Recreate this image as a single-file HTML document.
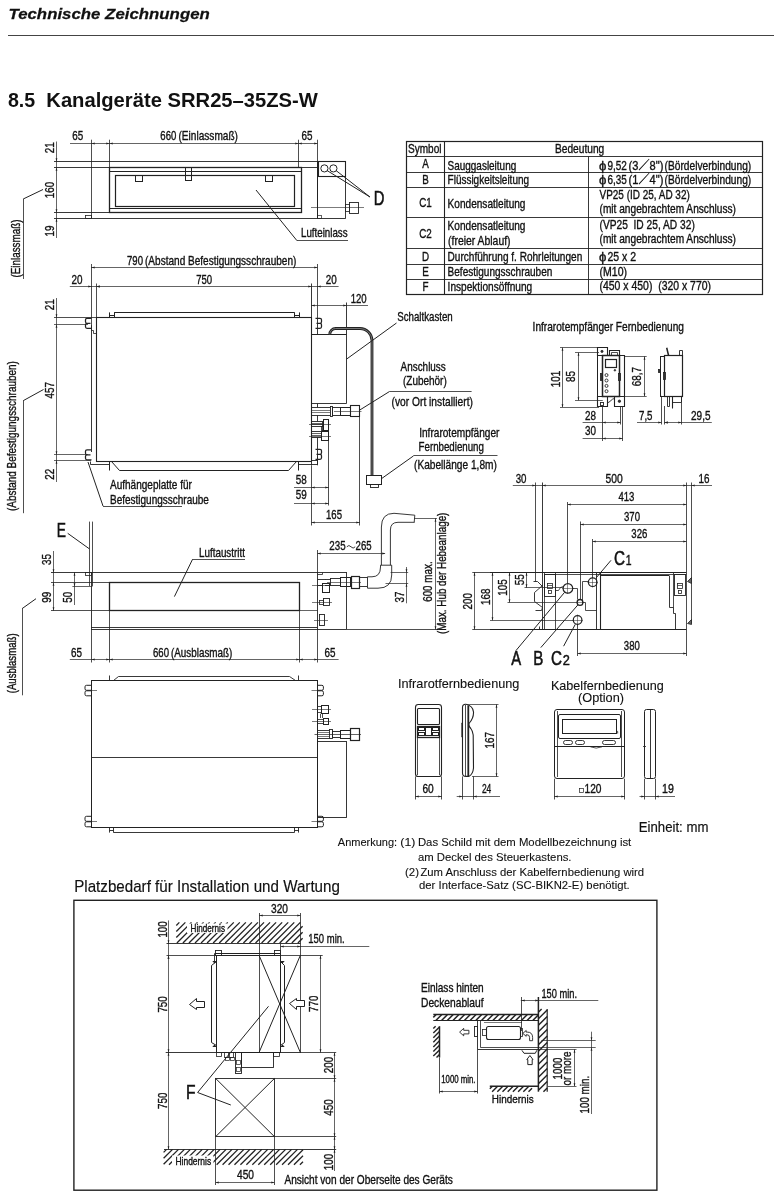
<!DOCTYPE html>
<html lang="de"><head><meta charset="utf-8"><title>Technische Zeichnungen</title>
<style>
html,body{margin:0;padding:0;background:#fff}
svg{display:block;will-change:transform}
svg text{fill:#111;stroke:#111;stroke-width:0.35px}
svg .a{fill:#222;stroke:none}
</style></head><body>
<svg width="774" height="1200" viewBox="0 0 774 1200" fill="none" stroke="#222" stroke-width="0.9" font-family="'Liberation Sans', 'Noto Sans CJK JP', sans-serif" font-size="12">
<!-- header -->
<text transform="translate(8.5 19.3) scale(1.086 1)" font-size="15.5" font-weight="bold" font-style="italic" style="stroke-width:0.25px">Technische Zeichnungen</text>
<line x1="8" y1="35.5" x2="774" y2="35.5" stroke-width="1.1" stroke="#444"/>
<text transform="translate(7.9 106.9) scale(1.007 1)" font-size="19.5" font-weight="bold" style="stroke-width:0px">8.5</text>
<text transform="translate(46.3 106.9) scale(1.036 1)" font-size="19.5" font-weight="bold" style="stroke-width:0px">Kanalgeräte SRR25–35ZS-W</text>
<!-- inlet view -->
<line x1="70" y1="143.5" x2="91" y2="143.5" stroke-width="0.7"/>
<line x1="91" y1="143.5" x2="109.8" y2="143.5" stroke-width="0.7"/>
<polygon class="a" points="91.5,143.5 94.7,142.6 94.7,144.4"/>
<polygon class="a" points="109.5,143.5 106.3,144.4 106.3,142.6"/>
<line x1="109.8" y1="143.5" x2="298.5" y2="143.5" stroke-width="0.7"/>
<polygon class="a" points="109.5,143.5 112.7,142.6 112.7,144.4"/>
<polygon class="a" points="298.5,143.5 295.3,144.4 295.3,142.6"/>
<line x1="298.5" y1="143.5" x2="317.4" y2="143.5" stroke-width="0.7"/>
<polygon class="a" points="298.5,143.5 301.7,142.6 301.7,144.4"/>
<polygon class="a" points="317.5,143.5 314.3,144.4 314.3,142.6"/>
<text transform="translate(72.3 140.3) scale(0.824 1)">65</text>
<text transform="translate(160.3 140.3) scale(0.799 1)">660</text>
<text transform="translate(178.5 140.3) scale(0.842 1)">(Einlassmaß)</text>
<text transform="translate(301.5 140.3) scale(0.824 1)">65</text>
<line x1="91.5" y1="139.7" x2="91.5" y2="218.2" stroke-width="0.8"/>
<line x1="109.5" y1="139.7" x2="109.5" y2="167.3" stroke-width="0.8"/>
<line x1="298.5" y1="139.7" x2="298.5" y2="167.3" stroke-width="0.8"/>
<line x1="317.5" y1="139.7" x2="317.5" y2="218.2" stroke-width="0.8"/>
<line x1="56.5" y1="141.5" x2="56.5" y2="238" stroke-width="0.7"/>
<polygon class="a" points="56.5,161.5 55.6,158.3 57.4,158.3"/>
<polygon class="a" points="56.5,167.5 57.4,170.7 55.6,170.7"/>
<polygon class="a" points="56.5,212.5 55.6,209.3 57.4,209.3"/>
<polygon class="a" points="56.5,218.5 57.4,221.7 55.6,221.7"/>
<text transform="translate(54 147.8) rotate(-90) scale(0.820 1)" text-anchor="middle">21</text>
<text transform="translate(54 190) rotate(-90) scale(0.820 1)" text-anchor="middle">160</text>
<text transform="translate(54 231) rotate(-90) scale(0.820 1)" text-anchor="middle">19</text>
<line x1="54" y1="161.5" x2="345.8" y2="161.5" stroke-width="0.9"/>
<line x1="54" y1="167.5" x2="317.4" y2="167.5" stroke-width="0.9"/>
<line x1="54" y1="212.5" x2="109.8" y2="212.5" stroke-width="0.9"/>
<line x1="54" y1="218.5" x2="345.8" y2="218.5" stroke-width="0.9"/>
<rect x="109.5" y="167.5" width="192" height="45" stroke-width="1.3"/>
<line x1="109.8" y1="171.5" x2="301" y2="171.5" stroke-width="1.1"/>
<line x1="109.8" y1="208.5" x2="301" y2="208.5" stroke-width="1.1"/>
<rect x="115.5" y="175.5" width="179" height="31" stroke-width="1.2"/>
<rect x="135.5" y="175.5" width="7" height="6" stroke-width="1"/>
<rect x="185.5" y="167.5" width="6" height="13" stroke-width="1"/>
<rect x="265.5" y="175.5" width="7" height="6" stroke-width="1"/>
<rect x="85.5" y="215.5" width="6" height="3" stroke-width="0.8"/>
<line x1="345.5" y1="161" x2="345.5" y2="218.2" stroke-width="0.9"/>
<line x1="317.5" y1="161" x2="317.5" y2="218.2" stroke-width="1"/>
<rect x="318.5" y="161.5" width="27" height="15" stroke-width="1.1"/>
<circle cx="324.4" cy="168.4" r="3.6" stroke-width="1"/>
<circle cx="333.4" cy="168.4" r="3.6" stroke-width="1"/>
<line x1="327" y1="170.5" x2="370" y2="197" stroke-width="1"/>
<line x1="336" y1="170.5" x2="370" y2="197" stroke-width="1"/>
<text transform="translate(373.8 205) scale(0.741 1)" font-size="20" style="stroke-width:0.55px">D</text>
<rect x="349.5" y="202.5" width="9" height="11" stroke-width="0.9"/>
<rect x="345.5" y="204.5" width="4" height="7" stroke-width="0.8"/>
<line x1="311" y1="207.5" x2="364" y2="207.5" stroke-width="0.6"/>
<rect x="317.5" y="215.5" width="4" height="3" stroke-width="0.7"/>
<line x1="256" y1="190" x2="297" y2="240.7" stroke-width="1"/>
<line x1="297" y1="240.5" x2="348" y2="240.5" stroke-width="0.8"/>
<text transform="translate(301 237) scale(0.812 1)">Lufteinlass</text>
<line x1="43" y1="189.5" x2="23.2" y2="199" stroke-width="1"/>
<line x1="23.5" y1="199" x2="23.5" y2="279" stroke-width="0.8"/>
<text transform="translate(19.6 277.5) rotate(-90) scale(0.821 1)">(Einlassmaß)</text>
<!-- table -->
<rect x="406.5" y="141.5" width="356" height="153" stroke-width="1.2"/>
<line x1="406.5" y1="156.5" x2="762.3" y2="156.5" stroke-width="0.9"/>
<line x1="406.5" y1="172.5" x2="762.3" y2="172.5" stroke-width="0.9"/>
<line x1="406.5" y1="187.5" x2="762.3" y2="187.5" stroke-width="0.9"/>
<line x1="406.5" y1="217.5" x2="762.3" y2="217.5" stroke-width="0.9"/>
<line x1="406.5" y1="248.5" x2="762.3" y2="248.5" stroke-width="0.9"/>
<line x1="406.5" y1="264.5" x2="762.3" y2="264.5" stroke-width="0.9"/>
<line x1="406.5" y1="279.5" x2="762.3" y2="279.5" stroke-width="0.9"/>
<line x1="444.5" y1="141.2" x2="444.5" y2="294" stroke-width="1.1"/>
<line x1="588.5" y1="156.3" x2="588.5" y2="294" stroke-width="0.9"/>
<text transform="translate(408 152.5) scale(0.837 1)">Symbol</text>
<text transform="translate(555 152.8) scale(0.849 1)">Bedeutung</text>
<text transform="translate(425.45 168.45) scale(0.820 1)" text-anchor="middle">A</text>
<text transform="translate(425.45 184) scale(0.820 1)" text-anchor="middle">B</text>
<text transform="translate(425.45 206.9) scale(0.820 1)" text-anchor="middle">C1</text>
<text transform="translate(425.45 237.65) scale(0.820 1)" text-anchor="middle">C2</text>
<text transform="translate(425.45 260.75) scale(0.820 1)" text-anchor="middle">D</text>
<text transform="translate(425.45 275.95) scale(0.820 1)" text-anchor="middle">E</text>
<text transform="translate(425.45 290.95) scale(0.820 1)" text-anchor="middle">F</text>
<text transform="translate(447.6 169.6) scale(0.830 1)">Sauggasleitung</text>
<text transform="translate(447.6 184.4) scale(0.832 1)">Flüssigkeitsleitung</text>
<text transform="translate(447.6 207.5) scale(0.840 1)">Kondensatleitung</text>
<text transform="translate(447.6 230) scale(0.840 1)">Kondensatleitung</text>
<text transform="translate(448.1 245) scale(0.868 1)">(freier Ablauf)</text>
<text transform="translate(447.6 260.5) scale(0.838 1)">Durchführung f. Rohrleitungen</text>
<text transform="translate(447.6 275.8) scale(0.836 1)">Befestigungsschrauben</text>
<text transform="translate(447.6 290.7) scale(0.843 1)">Inspektionsöffnung</text>
<text transform="translate(599 169.8) scale(1.016 1)" font-size="13">ϕ</text>
<text transform="translate(607.4 169.6) scale(0.831 1)">9,52</text>
<text transform="translate(628.6 169.6) scale(0.925 1)">(3／8")</text>
<text transform="translate(664.6 169.6) scale(0.849 1)">(Bördelverbindung)</text>
<text transform="translate(599 184.4) scale(1.016 1)" font-size="13">ϕ</text>
<text transform="translate(607.4 184.2) scale(0.831 1)">6,35</text>
<text transform="translate(628.6 184.2) scale(0.925 1)">(1／4")</text>
<text transform="translate(664.6 184.2) scale(0.849 1)">(Bördelverbindung)</text>
<text transform="translate(599.5 198.8) scale(0.832 1)">VP25 (ID 25, AD 32)</text>
<text transform="translate(599.5 213.4) scale(0.846 1)">(mit angebrachtem Anschluss)</text>
<text transform="translate(599.5 229.4) scale(0.852 1)">(VP25  ID 25, AD 32)</text>
<text transform="translate(599.5 243.4) scale(0.846 1)">(mit angebrachtem Anschluss)</text>
<text transform="translate(599 260.9) scale(1.016 1)" font-size="13">ϕ</text>
<text transform="translate(607.4 260.7) scale(0.875 1)">25 x 2</text>
<text transform="translate(599.5 275.5) scale(0.878 1)">(M10)</text>
<text transform="translate(599.5 290) scale(0.871 1)">(450 x 450)  (320 x 770)</text>
<!-- top view -->
<line x1="91" y1="267.5" x2="317.4" y2="267.5" stroke-width="0.7"/>
<polygon class="a" points="91.5,267.5 94.7,266.6 94.7,268.4"/>
<polygon class="a" points="317.5,267.5 314.3,268.4 314.3,266.6"/>
<text transform="translate(127 264.6) scale(0.799 1)">790</text>
<text transform="translate(145 264.6) scale(0.838 1)">(Abstand Befestigungsschrauben)</text>
<line x1="69.8" y1="286.5" x2="91" y2="286.5" stroke-width="0.7"/>
<line x1="91" y1="286.5" x2="96.4" y2="286.5" stroke-width="0.7"/>
<polygon class="a" points="91.5,286.5 88.3,287.4 88.3,285.6"/>
<polygon class="a" points="96.5,286.5 99.7,285.6 99.7,287.4"/>
<line x1="96.4" y1="286.5" x2="311.4" y2="286.5" stroke-width="0.7"/>
<polygon class="a" points="96.5,286.5 99.7,285.6 99.7,287.4"/>
<polygon class="a" points="311.5,286.5 308.3,287.4 308.3,285.6"/>
<line x1="311.4" y1="286.5" x2="338.6" y2="286.5" stroke-width="0.7"/>
<polygon class="a" points="317.5,286.5 320.7,285.6 320.7,287.4"/>
<text transform="translate(71.5 283.7) scale(0.824 1)">20</text>
<text transform="translate(196.2 283.7) scale(0.799 1)">750</text>
<text transform="translate(325.7 283.7) scale(0.824 1)">20</text>
<line x1="91.5" y1="264" x2="91.5" y2="325" stroke-width="0.8"/>
<line x1="96.5" y1="283.5" x2="96.5" y2="317.7" stroke-width="0.8"/>
<line x1="311.5" y1="283.5" x2="311.5" y2="465.3" stroke-width="0.9"/>
<line x1="317.5" y1="264" x2="317.5" y2="318.5" stroke-width="0.8"/>
<line x1="311.4" y1="305.5" x2="346.3" y2="305.5" stroke-width="0.7"/>
<polygon class="a" points="311.5,305.5 314.7,304.6 314.7,306.4"/>
<polygon class="a" points="346.5,305.5 343.3,306.4 343.3,304.6"/>
<line x1="346.3" y1="305.5" x2="368" y2="305.5" stroke-width="0.7"/>
<text transform="translate(350.7 302.6) scale(0.799 1)">120</text>
<line x1="346.5" y1="302.5" x2="346.5" y2="403.7" stroke-width="0.9"/>
<line x1="56.5" y1="298" x2="56.5" y2="482" stroke-width="0.7"/>
<polygon class="a" points="56.5,317.5 55.6,314.3 57.4,314.3"/>
<polygon class="a" points="56.5,324.5 57.4,327.7 55.6,327.7"/>
<polygon class="a" points="56.5,454.5 55.6,451.3 57.4,451.3"/>
<polygon class="a" points="56.5,460.5 57.4,463.7 55.6,463.7"/>
<text transform="translate(53.8 304.8) rotate(-90) scale(0.820 1)" text-anchor="middle">21</text>
<text transform="translate(53.5 390.2) rotate(-90) scale(0.820 1)" text-anchor="middle">457</text>
<text transform="translate(53.5 474.2) rotate(-90) scale(0.820 1)" text-anchor="middle">22</text>
<line x1="54" y1="317.5" x2="96.4" y2="317.5" stroke-width="0.8"/>
<line x1="54" y1="324.5" x2="88" y2="324.5" stroke-width="0.7"/>
<line x1="54" y1="454.5" x2="88" y2="454.5" stroke-width="0.7"/>
<line x1="54" y1="460.5" x2="91" y2="460.5" stroke-width="0.7"/>
<rect x="96.5" y="317.5" width="215" height="144" stroke-width="1.1"/>
<line x1="91.5" y1="325" x2="91.5" y2="452" stroke-width="0.9"/>
<line x1="114.2" y1="312.5" x2="294.6" y2="312.5" stroke-width="1"/>
<line x1="109.5" y1="312.4" x2="109.5" y2="317.8" stroke-width="1"/>
<line x1="114.5" y1="312.4" x2="114.5" y2="317.8" stroke-width="1"/>
<line x1="109.5" y1="315.5" x2="114.2" y2="315.5" stroke-width="1"/>
<line x1="294.5" y1="312.4" x2="294.5" y2="317.8" stroke-width="1"/>
<line x1="299.5" y1="312.4" x2="299.5" y2="317.8" stroke-width="1"/>
<line x1="294.6" y1="315.5" x2="299.8" y2="315.5" stroke-width="1"/>
<path d="M91.5 318.3 h-4.5 q-1.5 0 -1.5 1.5 v2 q0 1.5 1.5 1.5 h3.5 M90.5 323.3 h-3.5 q-1.5 0 -1.5 1.5 v2 q0 1.5 1.5 1.5 h4.5" stroke-width="1.25"/>
<path d="M91.5 449.8 h-4.5 q-1.5 0 -1.5 1.5 v2 q0 1.5 1.5 1.5 h3.5 M90.5 454.8 h-3.5 q-1.5 0 -1.5 1.5 v2 q0 1.5 1.5 1.5 h4.5" stroke-width="1.25"/>
<path d="M315.5 318.3 h4.5 q1.5 0 1.5 1.5 v2 q0 1.5 -1.5 1.5 h-3.5 M316.5 323.3 h3.5 q1.5 0 1.5 1.5 v2 q0 1.5 -1.5 1.5 h-4.5" stroke-width="1.25"/>
<path d="M315.5 449.3 h4.5 q1.5 0 1.5 1.5 v2 q0 1.5 -1.5 1.5 h-3.5 M316.5 454.3 h3.5 q1.5 0 1.5 1.5 v2 q0 1.5 -1.5 1.5 h-4.5" stroke-width="1.25"/>
<polyline points="91.5,325.5 91.5,330.5 93.5,330.5 93.5,333.5 96.5,333.5" stroke-width="0.8"/>
<line x1="317.5" y1="318.5" x2="317.5" y2="334.3" stroke-width="0.9"/>
<polyline points="90.5,461.5 90.5,464.5 109.5,464.5" stroke-width="0.9"/>
<line x1="109.5" y1="461.2" x2="109.5" y2="470.5" stroke-width="1"/>
<polyline points="111.5,461.5 119.5,470.5 288.5,470.5 296.5,461.5" stroke-width="1"/>
<line x1="298.5" y1="461.2" x2="298.5" y2="470.5" stroke-width="1"/>
<polyline points="298.5,464.5 317.5,464.5 317.5,456.5" stroke-width="0.9"/>
<line x1="311.4" y1="460.5" x2="317.4" y2="460.5" stroke-width="0.9"/>
<line x1="88" y1="462" x2="103" y2="506" stroke-width="1"/>
<line x1="103" y1="506.5" x2="182" y2="506.5" stroke-width="0.8"/>
<text transform="translate(110 488.6) scale(0.836 1)">Aufhängeplatte für</text>
<text transform="translate(110 503.5) scale(0.834 1)">Befestigungsschraube</text>
<line x1="43.5" y1="389.5" x2="23.2" y2="400.7" stroke-width="1"/>
<line x1="23.5" y1="400.7" x2="23.5" y2="513.2" stroke-width="0.8"/>
<text transform="translate(15.6 511) rotate(-90) scale(0.830 1)">(Abstand Befestigungsschrauben)</text>
<polyline points="311.5,334.5 346.5,334.5" stroke-width="1"/>
<line x1="311.4" y1="403.5" x2="346.3" y2="403.5" stroke-width="0.9"/>
<path d="M329.8 334.3 a5.8 5.8 0 0 1 5.8 -5.8 H360 a12 12 0 0 1 12 12 V475.5" stroke-width="2.8"/>
<path d="M329.8 334.3 a5.8 5.8 0 0 1 5.8 -5.8 H360 a12 12 0 0 1 12 12 V475.5" stroke-width="0.7" stroke="#999"/>
<rect x="366.5" y="475.5" width="15" height="9" stroke-width="1"/>
<rect x="370.5" y="484.5" width="8" height="3" stroke-width="0.9"/>
<line x1="346.3" y1="359.3" x2="396.5" y2="323" stroke-width="1"/>
<text transform="translate(397.2 320.5) scale(0.809 1)">Schaltkasten</text>
<text transform="translate(400.6 371) scale(0.826 1)">Anschluss</text>
<text transform="translate(403 385.2) scale(0.831 1)">(Zubehör)</text>
<line x1="389.5" y1="391.5" x2="471.6" y2="391.5" stroke-width="0.8"/>
<line x1="389.5" y1="391.5" x2="359.8" y2="410" stroke-width="1"/>
<text transform="translate(391.5 406.4) scale(0.855 1)">(vor Ort installiert)</text>
<text transform="translate(419.2 436.8) scale(0.842 1)">Infrarotempfänger</text>
<text transform="translate(418.6 451) scale(0.810 1)">Fernbedienung</text>
<text transform="translate(414 469.2) scale(0.846 1)">(Kabellänge 1,8m)</text>
<line x1="381" y1="479" x2="413.5" y2="455.9" stroke-width="1"/>
<line x1="413.5" y1="455.5" x2="497.5" y2="455.5" stroke-width="0.8"/>
<line x1="311.6" y1="407.5" x2="330" y2="407.5" stroke-width="0.9"/>
<line x1="311.6" y1="415.5" x2="330" y2="415.5" stroke-width="0.9"/>
<line x1="311.6" y1="410.5" x2="330" y2="410.5" stroke-width="0.6"/>
<line x1="311.6" y1="412.5" x2="330" y2="412.5" stroke-width="0.6"/>
<rect x="330.5" y="406.5" width="2" height="10" stroke-width="0.9"/>
<rect x="332.5" y="407.5" width="8" height="8" stroke-width="0.9"/>
<rect x="340.5" y="407.5" width="10" height="8" stroke-width="1"/>
<rect x="350.5" y="405.5" width="9" height="11" stroke-width="1.1"/>
<line x1="334" y1="411.5" x2="361.5" y2="411.5" stroke-width="0.6"/>
<line x1="317.5" y1="403.7" x2="317.5" y2="407.4" stroke-width="0.9"/>
<line x1="317.5" y1="415.2" x2="317.5" y2="421.4" stroke-width="0.9"/>
<rect x="311.5" y="421.5" width="11" height="5" stroke-width="0.9"/>
<line x1="311.6" y1="423.5" x2="322.2" y2="423.5" stroke-width="0.7"/>
<line x1="311.6" y1="424.5" x2="322.2" y2="424.5" stroke-width="0.7"/>
<rect x="323.5" y="419.5" width="5" height="11" stroke-width="1"/>
<rect x="321.5" y="426.5" width="2" height="4" stroke-width="0.8"/>
<line x1="309" y1="424.5" x2="331" y2="424.5" stroke-width="0.6"/>
<rect x="311.5" y="431.5" width="10" height="6" stroke-width="0.9"/>
<line x1="311.6" y1="433.5" x2="321.7" y2="433.5" stroke-width="0.7"/>
<line x1="311.6" y1="435.5" x2="321.7" y2="435.5" stroke-width="0.7"/>
<rect x="321.5" y="431.5" width="7" height="9" stroke-width="1"/>
<line x1="309" y1="436.5" x2="331" y2="436.5" stroke-width="0.6"/>
<line x1="317.5" y1="437.4" x2="317.5" y2="465.3" stroke-width="0.9"/>
<line x1="322.5" y1="426" x2="322.5" y2="431.2" stroke-width="0.8"/>
<line x1="311.4" y1="487.5" x2="328.8" y2="487.5" stroke-width="0.7"/>
<polygon class="a" points="311.5,487.5 314.7,486.6 314.7,488.4"/>
<polygon class="a" points="328.5,487.5 325.3,488.4 325.3,486.6"/>
<line x1="294" y1="487.5" x2="311.4" y2="487.5" stroke-width="0.7"/>
<text transform="translate(295.7 483.6) scale(0.824 1)">58</text>
<line x1="311.4" y1="503.5" x2="328.8" y2="503.5" stroke-width="0.7"/>
<polygon class="a" points="311.5,503.5 314.7,502.6 314.7,504.4"/>
<polygon class="a" points="328.5,503.5 325.3,504.4 325.3,502.6"/>
<line x1="294" y1="503.5" x2="311.4" y2="503.5" stroke-width="0.7"/>
<text transform="translate(295.7 498.6) scale(0.824 1)">59</text>
<line x1="311.4" y1="522.5" x2="359.8" y2="522.5" stroke-width="0.7"/>
<polygon class="a" points="311.5,522.5 314.7,521.6 314.7,523.4"/>
<polygon class="a" points="359.5,522.5 356.3,523.4 356.3,521.6"/>
<text transform="translate(326 518.5) scale(0.799 1)">165</text>
<line x1="311.5" y1="465.3" x2="311.5" y2="525.5" stroke-width="0.8"/>
<line x1="328.5" y1="441" x2="328.5" y2="505.5" stroke-width="0.8"/>
<line x1="359.5" y1="417" x2="359.5" y2="525.5" stroke-width="0.8"/>
<!-- outlet front view -->
<text transform="translate(56.8 536.6) scale(0.690 1)" font-size="20" style="stroke-width:0.55px">E</text>
<line x1="67.7" y1="533.3" x2="89.3" y2="548.8" stroke-width="1"/>
<line x1="89.5" y1="521.6" x2="89.5" y2="586" stroke-width="0.8"/>
<line x1="92.5" y1="521.6" x2="92.5" y2="586" stroke-width="0.8"/>
<line x1="53.5" y1="551" x2="53.5" y2="610.8" stroke-width="0.7"/>
<polygon class="a" points="53.5,572.5 52.6,569.3 54.4,569.3"/>
<polygon class="a" points="53.5,582.5 54.4,585.7 52.6,585.7"/>
<polygon class="a" points="53.5,610.5 52.6,607.3 54.4,607.3"/>
<text transform="translate(50.8 559.5) rotate(-90) scale(0.820 1)" text-anchor="middle">35</text>
<text transform="translate(50.8 597.3) rotate(-90) scale(0.820 1)" text-anchor="middle">99</text>
<line x1="74.5" y1="572" x2="74.5" y2="605" stroke-width="0.7"/>
<polygon class="a" points="74.5,572.5 75.4,575.7 73.6,575.7"/>
<polygon class="a" points="74.5,586.5 73.6,583.3 75.4,583.3"/>
<line x1="72.4" y1="586.5" x2="92.5" y2="586.5" stroke-width="0.7"/>
<text transform="translate(72 597.3) rotate(-90) scale(0.820 1)" text-anchor="middle">50</text>
<line x1="51" y1="572.5" x2="346.3" y2="572.5" stroke-width="0.9"/>
<line x1="51" y1="582.5" x2="109.8" y2="582.5" stroke-width="0.8"/>
<line x1="51" y1="610.5" x2="109.8" y2="610.5" stroke-width="0.8"/>
<line x1="299.8" y1="610.5" x2="317.4" y2="610.5" stroke-width="0.7"/>
<rect x="109.5" y="582.5" width="190" height="28" stroke-width="1.3"/>
<line x1="91.5" y1="572" x2="91.5" y2="630" stroke-width="0.9"/>
<line x1="317.5" y1="572" x2="317.5" y2="630" stroke-width="0.9"/>
<line x1="91" y1="627.5" x2="317.4" y2="627.5" stroke-width="0.9"/>
<line x1="91" y1="629.5" x2="346.3" y2="629.5" stroke-width="0.9"/>
<rect x="85.5" y="572.5" width="6" height="3" stroke-width="0.8"/>
<line x1="346.5" y1="572" x2="346.5" y2="629.6" stroke-width="0.9"/>
<line x1="346.3" y1="629.5" x2="437" y2="629.5" stroke-width="0.8"/>
<polyline points="317.5,574.5 322.5,574.5 322.5,572.5" stroke-width="0.8"/>
<text transform="translate(199 556.6) scale(0.821 1)">Luftaustritt</text>
<line x1="192.6" y1="559.5" x2="245" y2="559.5" stroke-width="0.8"/>
<line x1="192.6" y1="559.2" x2="174.4" y2="596.6" stroke-width="1"/>
<line x1="69.8" y1="659.5" x2="91" y2="659.5" stroke-width="0.7"/>
<line x1="91" y1="659.5" x2="109.8" y2="659.5" stroke-width="0.7"/>
<polygon class="a" points="91.5,659.5 94.7,658.6 94.7,660.4"/>
<polygon class="a" points="109.5,659.5 106.3,660.4 106.3,658.6"/>
<line x1="109.8" y1="659.5" x2="299.8" y2="659.5" stroke-width="0.7"/>
<polygon class="a" points="109.5,659.5 112.7,658.6 112.7,660.4"/>
<polygon class="a" points="299.5,659.5 296.3,660.4 296.3,658.6"/>
<line x1="299.8" y1="659.5" x2="317.4" y2="659.5" stroke-width="0.7"/>
<polygon class="a" points="299.5,659.5 302.7,658.6 302.7,660.4"/>
<polygon class="a" points="317.5,659.5 314.3,660.4 314.3,658.6"/>
<line x1="317.4" y1="659.5" x2="338.6" y2="659.5" stroke-width="0.7"/>
<text transform="translate(71 656.6) scale(0.824 1)">65</text>
<text transform="translate(153 656.6) scale(0.799 1)">660</text>
<text transform="translate(171 656.6) scale(0.823 1)">(Ausblasmaß)</text>
<text transform="translate(324.4 656.6) scale(0.824 1)">65</text>
<line x1="91.5" y1="630" x2="91.5" y2="662.5" stroke-width="0.8"/>
<line x1="109.5" y1="610.8" x2="109.5" y2="662.5" stroke-width="0.8"/>
<line x1="299.5" y1="610.8" x2="299.5" y2="662.5" stroke-width="0.8"/>
<line x1="317.5" y1="630" x2="317.5" y2="662.5" stroke-width="0.8"/>
<line x1="36" y1="598.7" x2="22" y2="608.7" stroke-width="1"/>
<line x1="22.5" y1="608.7" x2="22.5" y2="695.3" stroke-width="0.8"/>
<text transform="translate(16.1 693.3) rotate(-90) scale(0.803 1)">(Ausblasmaß)</text>
<line x1="317.4" y1="553.5" x2="385" y2="553.5" stroke-width="0.7"/>
<polygon class="a" points="317.5,553.5 320.7,552.6 320.7,554.4"/>
<polygon class="a" points="385.5,553.5 382.3,554.4 382.3,552.6"/>
<text transform="translate(329.3 550.3) scale(0.814 1)">235</text>
<text transform="translate(355.6 550.3) scale(0.799 1)">265</text>
<path d="M346.8 546.8 q2.1 -2.6 4.2 0 t4.2 0" stroke-width="0.9"/>
<line x1="317.5" y1="550" x2="317.5" y2="572" stroke-width="0.8"/>
<line x1="325" y1="579.5" x2="330.7" y2="579.5" stroke-width="0.9"/>
<line x1="325" y1="585.5" x2="330.7" y2="585.5" stroke-width="0.9"/>
<rect x="330.5" y="578.5" width="10" height="7" stroke-width="0.9"/>
<rect x="340.5" y="577.5" width="10" height="9" stroke-width="1"/>
<rect x="351.5" y="576.5" width="8" height="12" stroke-width="1.2"/>
<line x1="327" y1="582.5" x2="361" y2="582.5" stroke-width="0.6"/>
<line x1="359.2" y1="577.5" x2="367.3" y2="577.5" stroke-width="0.9"/>
<line x1="359.2" y1="586.5" x2="367.3" y2="586.5" stroke-width="0.9"/>
<path d="M367.5 576.8 H372 Q380.5 576.8 380.5 567 V565.2 M381.4 565.2 V527 Q381.4 513.3 394 513.3 L414.8 515.2" stroke-width="0.9"/>
<path d="M367.5 588.2 H378 Q391.7 588.2 391.7 575 V565.2 M390.4 565.2 V530 Q390.4 522.3 398 522.3 L414.6 522.3" stroke-width="0.9"/>
<path d="M367.5 576.8 V588.2 M380.5 565.2 H391.7 M414.8 515.2 L414.2 522.3" stroke-width="0.9"/>
<polyline points="317.5,579.5 325.5,579.5" stroke-width="0.9"/>
<polyline points="317.5,585.5 322.5,585.5" stroke-width="0.9"/>
<rect x="322.5" y="583.5" width="7" height="9" stroke-width="1"/>
<line x1="312" y1="585.5" x2="329.5" y2="585.5" stroke-width="0.6"/>
<rect x="323.5" y="598.5" width="6" height="7" stroke-width="0.9"/>
<rect x="319.5" y="600.5" width="4" height="4" stroke-width="0.8"/>
<line x1="312" y1="602.5" x2="332" y2="602.5" stroke-width="0.6"/>
<rect x="319.5" y="614.5" width="5" height="11" stroke-width="0.9"/>
<line x1="314" y1="620.5" x2="328" y2="620.5" stroke-width="0.6"/>
<line x1="435.5" y1="518.2" x2="435.5" y2="629.6" stroke-width="0.7"/>
<polygon class="a" points="435.5,518.5 436.4,521.7 434.6,521.7"/>
<polygon class="a" points="435.5,629.5 434.6,626.3 436.4,626.3"/>
<line x1="414.4" y1="518.5" x2="437" y2="518.5" stroke-width="0.7"/>
<text transform="translate(432.1 581.6) rotate(-90) scale(0.820 1)" text-anchor="middle">600 max.</text>
<text transform="translate(446.4 634) rotate(-90) scale(0.820 1)">(Max. Hub der Hebeanlage)</text>
<line x1="406.5" y1="567" x2="406.5" y2="603.3" stroke-width="0.7"/>
<polygon class="a" points="406.5,572.5 405.6,569.3 407.4,569.3"/>
<polygon class="a" points="406.5,583.5 407.4,586.7 405.6,586.7"/>
<line x1="390.6" y1="572.5" x2="408.2" y2="572.5" stroke-width="0.7"/>
<line x1="385.5" y1="583.5" x2="408.2" y2="583.5" stroke-width="0.7"/>
<text transform="translate(403.8 597) rotate(-90) scale(0.820 1)" text-anchor="middle">37</text>
<!-- right side view -->
<line x1="512.8" y1="485.5" x2="535" y2="485.5" stroke-width="0.7"/>
<polygon class="a" points="535.5,485.5 532.3,486.4 532.3,484.6"/>
<line x1="542.7" y1="485.5" x2="686.3" y2="485.5" stroke-width="0.7"/>
<polygon class="a" points="542.5,485.5 545.7,484.6 545.7,486.4"/>
<polygon class="a" points="686.5,485.5 683.3,486.4 683.3,484.6"/>
<line x1="535" y1="485.5" x2="542.7" y2="485.5" stroke-width="0.7"/>
<polygon class="a" points="691.5,485.5 694.7,484.6 694.7,486.4"/>
<line x1="686.3" y1="485.5" x2="712" y2="485.5" stroke-width="0.7"/>
<text transform="translate(515.7 482.8) scale(0.809 1)">30</text>
<text transform="translate(605.6 482.8) scale(0.859 1)">500</text>
<text transform="translate(698.4 482.8) scale(0.824 1)">16</text>
<line x1="535.5" y1="482.5" x2="535.5" y2="581.7" stroke-width="0.8"/>
<line x1="542.5" y1="482.5" x2="542.5" y2="629.5" stroke-width="0.9"/>
<line x1="686.5" y1="482.5" x2="686.5" y2="656" stroke-width="0.8"/>
<line x1="691.5" y1="482.5" x2="691.5" y2="623.7" stroke-width="0.8"/>
<line x1="567.8" y1="504.5" x2="686.3" y2="504.5" stroke-width="0.7"/>
<polygon class="a" points="567.5,504.5 570.7,503.6 570.7,505.4"/>
<polygon class="a" points="686.5,504.5 683.3,505.4 683.3,503.6"/>
<text transform="translate(618.4 501) scale(0.799 1)">413</text>
<line x1="580" y1="524.5" x2="686.3" y2="524.5" stroke-width="0.7"/>
<polygon class="a" points="580.5,524.5 583.7,523.6 583.7,525.4"/>
<polygon class="a" points="686.5,524.5 683.3,525.4 683.3,523.6"/>
<text transform="translate(624 520.5) scale(0.799 1)">370</text>
<line x1="592.7" y1="541.5" x2="686.3" y2="541.5" stroke-width="0.7"/>
<polygon class="a" points="592.5,541.5 595.7,540.6 595.7,542.4"/>
<polygon class="a" points="686.5,541.5 683.3,542.4 683.3,540.6"/>
<text transform="translate(631.3 537.8) scale(0.799 1)">326</text>
<line x1="567.5" y1="502" x2="567.5" y2="583.5" stroke-width="0.8"/>
<line x1="580.5" y1="521.5" x2="580.5" y2="599.5" stroke-width="0.8"/>
<line x1="592.5" y1="539" x2="592.5" y2="578" stroke-width="0.8"/>
<line x1="490" y1="572.5" x2="686.3" y2="572.5" stroke-width="1"/>
<line x1="490" y1="629.5" x2="686.3" y2="629.5" stroke-width="1"/>
<line x1="544.3" y1="574.5" x2="686.3" y2="574.5" stroke-width="0.8"/>
<line x1="544.5" y1="572" x2="544.5" y2="629.5" stroke-width="0.8"/>
<line x1="555.5" y1="572" x2="555.5" y2="629.5" stroke-width="0.8"/>
<line x1="596.5" y1="572" x2="596.5" y2="629.5" stroke-width="0.9"/>
<line x1="600.5" y1="572" x2="600.5" y2="629.5" stroke-width="1.1"/>
<line x1="600.6" y1="575.5" x2="669" y2="575.5" stroke-width="1.1"/>
<polyline points="669.5,575.5 669.5,607.5 673.5,607.5 673.5,613.5 675.5,613.5 675.5,629.5" stroke-width="0.9"/>
<line x1="673.5" y1="572" x2="673.5" y2="607.8" stroke-width="0.8"/>
<rect x="544.5" y="574.5" width="11" height="22" stroke-width="0.9"/>
<rect x="547.5" y="583.5" width="5" height="5" stroke-width="0.8"/>
<rect x="548.5" y="590.5" width="3" height="3" stroke-width="0.8"/>
<line x1="547.5" y1="585.5" x2="552" y2="585.5" stroke-width="0.7"/>
<rect x="674.5" y="574.5" width="11" height="21" stroke-width="0.9"/>
<rect x="677.5" y="583.5" width="5" height="5" stroke-width="0.8"/>
<rect x="678.5" y="590.5" width="3" height="3" stroke-width="0.8"/>
<line x1="677.5" y1="585.5" x2="682" y2="585.5" stroke-width="0.7"/>
<polyline points="533.5,581.5 537.5,581.5 542.5,586.5" stroke-width="0.9"/>
<polyline points="542.5,585.5 534.5,592.5 534.5,601.5 542.5,607.5" stroke-width="0.9"/>
<polyline points="535.5,610.5 541.5,610.5 542.5,607.5" stroke-width="0.9"/>
<polyline points="539.5,629.5 539.5,626.5" stroke-width="0.9"/>
<polygon points="691.5,577.5 687.5,581.5 691.5,583.5" stroke-width="0.8" fill="#666"/>
<polygon points="691.5,619.5 687.5,623.5 691.5,624.5" stroke-width="0.8" fill="#666"/>
<circle cx="567.9" cy="588.4" r="4.8" stroke-width="1.2"/>
<circle cx="580" cy="602.4" r="2.9" stroke-width="1.3"/>
<circle cx="592.7" cy="582.2" r="4.3" stroke-width="1.2"/>
<circle cx="577.6" cy="620" r="4.3" stroke-width="1.2"/>
<line x1="562" y1="588.5" x2="574" y2="588.5" stroke-width="0.5"/>
<line x1="567.5" y1="583" x2="567.5" y2="594" stroke-width="0.5"/>
<line x1="587.5" y1="582.5" x2="598" y2="582.5" stroke-width="0.5"/>
<line x1="592.5" y1="577" x2="592.5" y2="587.5" stroke-width="0.5"/>
<line x1="572.4" y1="620.5" x2="583" y2="620.5" stroke-width="0.5"/>
<line x1="577.5" y1="614.5" x2="577.5" y2="625.5" stroke-width="0.5"/>
<line x1="576.5" y1="602.5" x2="583.5" y2="602.5" stroke-width="0.5"/>
<polyline points="555.5,590.5 558.5,590.5 560.5,587.5 563.5,586.5" stroke-width="0.8"/>
<polyline points="572.5,588.5 577.5,588.5 577.5,599.5" stroke-width="0.8"/>
<polyline points="582.5,602.5 582.5,581.5 588.5,581.5" stroke-width="0.8"/>
<polyline points="582.5,602.5 585.5,602.5 585.5,610.5 596.5,610.5" stroke-width="0.8"/>
<line x1="492.5" y1="572" x2="492.5" y2="620.4" stroke-width="0.7"/>
<polygon class="a" points="492.5,572.5 493.4,575.7 491.6,575.7"/>
<polygon class="a" points="492.5,620.5 491.6,617.3 493.4,617.3"/>
<line x1="490" y1="620.5" x2="573.3" y2="620.5" stroke-width="0.7"/>
<line x1="509.5" y1="572" x2="509.5" y2="602.4" stroke-width="0.7"/>
<polygon class="a" points="509.5,572.5 510.4,575.7 508.6,575.7"/>
<polygon class="a" points="509.5,602.5 508.6,599.3 510.4,599.3"/>
<line x1="507.5" y1="602.5" x2="577" y2="602.5" stroke-width="0.7"/>
<line x1="526.5" y1="572" x2="526.5" y2="587.9" stroke-width="0.7"/>
<polygon class="a" points="526.5,572.5 527.4,575.7 525.6,575.7"/>
<polygon class="a" points="526.5,587.5 525.6,584.3 527.4,584.3"/>
<line x1="524.5" y1="587.5" x2="562.7" y2="587.5" stroke-width="0.7"/>
<text transform="translate(523.5 579.8) rotate(-90) scale(0.820 1)" text-anchor="middle">55</text>
<text transform="translate(506.6 587.5) rotate(-90) scale(0.820 1)" text-anchor="middle">105</text>
<line x1="474.5" y1="572" x2="474.5" y2="629.6" stroke-width="0.7"/>
<polygon class="a" points="474.5,572.5 475.4,575.7 473.6,575.7"/>
<polygon class="a" points="474.5,629.5 473.6,626.3 475.4,626.3"/>
<text transform="translate(472.1 601.3) rotate(-90) scale(0.820 1)" text-anchor="middle">200</text>
<line x1="472.3" y1="572.5" x2="490" y2="572.5" stroke-width="0.8"/>
<line x1="472.3" y1="629.5" x2="490" y2="629.5" stroke-width="0.8"/>
<text transform="translate(490 596.7) rotate(-90) scale(0.820 1)" text-anchor="middle">168</text>
<line x1="516" y1="650.5" x2="564.6" y2="592.3" stroke-width="1"/>
<line x1="540.8" y1="647.6" x2="577.8" y2="605" stroke-width="1"/>
<line x1="563.6" y1="646.2" x2="575.3" y2="624.3" stroke-width="1"/>
<line x1="611" y1="560.3" x2="596.2" y2="577.8" stroke-width="1"/>
<text transform="translate(511.3 665) scale(0.742 1)" font-size="20" style="stroke-width:0.55px">A</text>
<text transform="translate(533.2 665) scale(0.757 1)" font-size="20" style="stroke-width:0.55px">B</text>
<text transform="translate(551 665) scale(0.762 1)" font-size="20" style="stroke-width:0.55px">C</text>
<text transform="translate(562.7 665) scale(0.912 1)" font-size="14" style="stroke-width:0.45px">2</text>
<text transform="translate(614 565.2) scale(0.762 1)" font-size="20" style="stroke-width:0.55px">C</text>
<text transform="translate(625.7 565.2) scale(0.745 1)" font-size="14" style="stroke-width:0.45px">1</text>
<line x1="577.6" y1="653.5" x2="686.3" y2="653.5" stroke-width="0.7"/>
<polygon class="a" points="577.5,653.5 580.7,652.6 580.7,654.4"/>
<polygon class="a" points="686.5,653.5 683.3,654.4 683.3,652.6"/>
<text transform="translate(623.8 649.7) scale(0.799 1)">380</text>
<line x1="577.5" y1="624.3" x2="577.5" y2="656" stroke-width="0.8"/>
<!-- bottom view -->
<rect x="91.5" y="680.5" width="226" height="147" stroke-width="1"/>
<line x1="91" y1="757.5" x2="317.4" y2="757.5" stroke-width="0.9"/>
<polyline points="113.5,680.5 118.5,676.5 289.5,676.5 295.5,680.5" stroke-width="0.9"/>
<line x1="109.5" y1="675.5" x2="109.5" y2="680.2" stroke-width="0.9"/>
<line x1="298.5" y1="675.5" x2="298.5" y2="680.2" stroke-width="0.9"/>
<line x1="113.5" y1="832.5" x2="294.4" y2="832.5" stroke-width="0.9"/>
<line x1="113.5" y1="827.6" x2="113.5" y2="832.6" stroke-width="0.9"/>
<line x1="109.5" y1="827.6" x2="109.5" y2="832.6" stroke-width="0.9"/>
<line x1="109.6" y1="830.5" x2="113.5" y2="830.5" stroke-width="0.9"/>
<line x1="294.5" y1="827.6" x2="294.5" y2="832.6" stroke-width="0.9"/>
<line x1="298.5" y1="827.6" x2="298.5" y2="832.6" stroke-width="0.9"/>
<line x1="294.4" y1="830.5" x2="298.8" y2="830.5" stroke-width="0.9"/>
<path d="M91 685.3 h-4.5 q-1.5 0 -1.5 1.5 v2 q0 1.5 1.5 1.5 h4.5 M91 690.8 h-4.5 q-1.5 0 -1.5 1.5 v2 q0 1.5 1.5 1.5 h4.5" stroke-width="1"/>
<path d="M91 816.3 h-4.5 q-1.5 0 -1.5 1.5 v2 q0 1.5 1.5 1.5 h4.5 M91 821.8 h-4.5 q-1.5 0 -1.5 1.5 v2 q0 1.5 1.5 1.5 h4.5" stroke-width="1"/>
<path d="M317.4 685.3 h4.5 q1.5 0 1.5 1.5 v2 q0 1.5 -1.5 1.5 h-4.5 M317.4 690.8 h4.5 q1.5 0 1.5 1.5 v2 q0 1.5 -1.5 1.5 h-4.5" stroke-width="1"/>
<path d="M317.4 816.3 h4.5 q1.5 0 1.5 1.5 v2 q0 1.5 -1.5 1.5 h-4.5 M317.4 821.8 h4.5 q1.5 0 1.5 1.5 v2 q0 1.5 -1.5 1.5 h-4.5" stroke-width="1"/>
<line x1="91" y1="690.5" x2="97" y2="690.5" stroke-width="0.6"/>
<line x1="91" y1="821.5" x2="97" y2="821.5" stroke-width="0.6"/>
<line x1="311.5" y1="690.5" x2="317.4" y2="690.5" stroke-width="0.6"/>
<line x1="311.5" y1="821.5" x2="317.4" y2="821.5" stroke-width="0.6"/>
<rect x="317.5" y="741.5" width="29" height="76" stroke-width="0.9"/>
<line x1="317.4" y1="730.5" x2="329.5" y2="730.5" stroke-width="0.9"/>
<line x1="317.4" y1="738.5" x2="329.5" y2="738.5" stroke-width="0.9"/>
<line x1="314.5" y1="734.5" x2="361" y2="734.5" stroke-width="0.7"/>
<line x1="317.4" y1="732.5" x2="329.5" y2="732.5" stroke-width="0.6"/>
<line x1="317.4" y1="736.5" x2="329.5" y2="736.5" stroke-width="0.6"/>
<rect x="329.5" y="729.5" width="3" height="9" stroke-width="0.9"/>
<rect x="332.5" y="731.5" width="8" height="6" stroke-width="0.9"/>
<rect x="340.5" y="730.5" width="10" height="8" stroke-width="1"/>
<rect x="350.5" y="728.5" width="9" height="12" stroke-width="1.2"/>
<rect x="321.5" y="705.5" width="7" height="8" stroke-width="1"/>
<rect x="317.5" y="706.5" width="4" height="6" stroke-width="0.8"/>
<line x1="312" y1="709.5" x2="331" y2="709.5" stroke-width="0.6"/>
<rect x="323.5" y="718.5" width="5" height="6" stroke-width="1"/>
<rect x="317.5" y="719.5" width="6" height="4" stroke-width="0.8"/>
<line x1="312" y1="721.5" x2="331" y2="721.5" stroke-width="0.6"/>
<line x1="320.5" y1="713.7" x2="320.5" y2="718" stroke-width="0.8"/>
<line x1="322.5" y1="713.7" x2="322.5" y2="718" stroke-width="0.8"/>
<!-- IR remote -->
<text transform="translate(398 687.8) scale(0.977 1)" font-size="13" style="stroke-width:0.12px">Infrarotfernbedienung</text>
<rect x="415.5" y="704.5" width="26" height="72" stroke-width="1.1" rx="2.8"/>
<rect x="417.5" y="708.5" width="22" height="16" stroke-width="1.1" rx="1"/>
<rect x="417.5" y="726.5" width="22" height="11" stroke-width="1.3"/>
<rect x="418.5" y="727.5" width="6" height="3" stroke-width="1"/>
<rect x="418.5" y="732.5" width="6" height="3" stroke-width="1"/>
<rect x="432.5" y="727.5" width="6" height="3" stroke-width="1"/>
<rect x="432.5" y="732.5" width="6" height="3" stroke-width="1"/>
<rect x="425.5" y="727.5" width="6" height="8" stroke-width="1"/>
<line x1="417.5" y1="737" x2="417.5" y2="775" stroke-width="0.8"/>
<line x1="439.5" y1="737" x2="439.5" y2="775" stroke-width="0.8"/>
<path d="M465.5 704.3 Q462.5 704.3 462.5 707.5 V773 Q462.5 776.4 466 776.4 L469 776.4 Q473 774 473.5 768 L473.2 735 Q472.8 731 470.8 728.5 Q468.3 726 469 723.5 Q473.8 718 473.5 712 Q473 706 466 704.3 Z" stroke-width="1.1"/>
<line x1="465.5" y1="705" x2="465.5" y2="776" stroke-width="0.8"/>
<path d="M468.3 705.5 V776" stroke-width="1.8"/>
<path d="M462.5 723 h-0.8 v14 h0.8" stroke-width="0.8"/>
<line x1="496.5" y1="704.3" x2="496.5" y2="776.6" stroke-width="0.7"/>
<polygon class="a" points="496.5,704.5 497.4,707.7 495.6,707.7"/>
<polygon class="a" points="496.5,776.5 495.6,773.3 497.4,773.3"/>
<line x1="467" y1="704.5" x2="498.5" y2="704.5" stroke-width="0.7"/>
<line x1="472" y1="776.5" x2="498.5" y2="776.5" stroke-width="0.7"/>
<text transform="translate(494 740.2) rotate(-90) scale(0.820 1)" text-anchor="middle">167</text>
<line x1="415.3" y1="796.5" x2="441.8" y2="796.5" stroke-width="0.7"/>
<polygon class="a" points="415.5,796.5 418.7,795.6 418.7,797.4"/>
<polygon class="a" points="441.5,796.5 438.3,797.4 438.3,795.6"/>
<line x1="415.5" y1="776.4" x2="415.5" y2="799.5" stroke-width="0.8"/>
<line x1="441.5" y1="776.4" x2="441.5" y2="799.5" stroke-width="0.8"/>
<text transform="translate(422.4 792.8) scale(0.847 1)">60</text>
<line x1="456.7" y1="796.5" x2="462.5" y2="796.5" stroke-width="0.7"/>
<polygon class="a" points="462.5,796.5 459.3,797.4 459.3,795.6"/>
<polygon class="a" points="473.5,796.5 476.7,795.6 476.7,797.4"/>
<line x1="462.5" y1="796.5" x2="500" y2="796.5" stroke-width="0.7"/>
<line x1="462.5" y1="776.4" x2="462.5" y2="799.5" stroke-width="0.8"/>
<line x1="473.5" y1="776.4" x2="473.5" y2="799.5" stroke-width="0.8"/>
<text transform="translate(481.9 792.8) scale(0.704 1)">24</text>
<!-- wired remote -->
<text transform="translate(550.9 689.5) scale(0.972 1)" font-size="13" style="stroke-width:0.12px">Kabelfernbedienung</text>
<text transform="translate(578 702) scale(0.980 1)" font-size="13" style="stroke-width:0.12px">(Option)</text>
<rect x="554.5" y="709.5" width="70" height="69" stroke-width="1" rx="2.5"/>
<line x1="557.5" y1="711" x2="557.5" y2="777" stroke-width="0.8"/>
<line x1="621.5" y1="711" x2="621.5" y2="777" stroke-width="0.8"/>
<rect x="558.5" y="714.5" width="62" height="24" stroke-width="1" rx="1.5"/>
<rect x="562.5" y="719.5" width="54" height="14" stroke-width="1"/>
<path d="M616.2 730.5 l1.5 1 v2" stroke-width="0.8"/>
<rect x="563.5" y="740.5" width="9" height="4" stroke-width="0.9" rx="2"/>
<rect x="575.5" y="740.5" width="9" height="4" stroke-width="0.9" rx="2"/>
<rect x="602.5" y="740.5" width="13" height="4" stroke-width="0.9" rx="2"/>
<line x1="554.2" y1="746.5" x2="624.8" y2="746.5" stroke-width="1"/>
<path d="M590.4 746.8 q5.8 2.6 11.6 0" stroke-width="0.8"/>
<rect x="644.5" y="709.5" width="11" height="69" stroke-width="1" rx="2"/>
<line x1="650.5" y1="709.4" x2="650.5" y2="778.7" stroke-width="0.9"/>
<line x1="643" y1="746.5" x2="646" y2="746.5" stroke-width="0.8"/>
<line x1="554.2" y1="796.5" x2="624.8" y2="796.5" stroke-width="0.7"/>
<polygon class="a" points="554.5,796.5 557.7,795.6 557.7,797.4"/>
<polygon class="a" points="624.5,796.5 621.3,797.4 621.3,795.6"/>
<line x1="554.5" y1="778.7" x2="554.5" y2="799.5" stroke-width="0.8"/>
<line x1="624.5" y1="778.7" x2="624.5" y2="799.5" stroke-width="0.8"/>
<rect x="579.5" y="788.5" width="4" height="4" stroke-width="0.7"/>
<text transform="translate(584.5 793.4) scale(0.849 1)">120</text>
<line x1="639.5" y1="796.5" x2="644.6" y2="796.5" stroke-width="0.7"/>
<polygon class="a" points="644.5,796.5 641.3,797.4 641.3,795.6"/>
<polygon class="a" points="655.5,796.5 658.7,795.6 658.7,797.4"/>
<line x1="644.6" y1="796.5" x2="675" y2="796.5" stroke-width="0.7"/>
<line x1="644.5" y1="778.7" x2="644.5" y2="799.5" stroke-width="0.8"/>
<line x1="655.5" y1="778.7" x2="655.5" y2="799.5" stroke-width="0.8"/>
<text transform="translate(662 793.4) scale(0.884 1)">19</text>
<text transform="translate(638.7 831.7) scale(0.881 1)" font-size="15" style="stroke-width:0.2px">Einheit: mm</text>
<!-- notes -->
<text transform="translate(337.8 845.8) scale(1.002 1)" font-size="11" style="stroke-width:0.1px">Anmerkung:</text>
<text transform="translate(400.3 845.8) scale(1.116 1)" font-size="11" style="stroke-width:0.1px">(1)</text>
<text transform="translate(417.9 845.8) scale(1.034 1)" font-size="11" style="stroke-width:0.1px">Das Schild mit dem Modellbezeichnung ist</text>
<text transform="translate(417.9 860.6) scale(1.031 1)" font-size="11" style="stroke-width:0.1px">am Deckel des Steuerkastens.</text>
<text transform="translate(405 875.6) scale(1.041 1)" font-size="11" style="stroke-width:0.1px">(2)</text>
<text transform="translate(420.4 875.6) scale(1.027 1)" font-size="11" style="stroke-width:0.1px">Zum Anschluss der Kabelfernbedienung wird</text>
<text transform="translate(419 888.5) scale(1.030 1)" font-size="11" style="stroke-width:0.1px">der Interface-Satz (SC-BIKN2-E) benötigt.</text>
<!-- installation space -->
<text transform="translate(74.2 892) scale(0.948 1)" font-size="16" style="stroke-width:0.15px">Platzbedarf für Installation und Wartung</text>
<rect x="73.9" y="900.3" width="583" height="289.9" stroke-width="1.4"/>
<line x1="168.5" y1="920.4" x2="168.5" y2="1149.4" stroke-width="0.7"/>
<polygon class="a" points="168.5,943.5 167.6,940.3 169.4,940.3"/>
<polygon class="a" points="168.5,955.5 169.4,958.7 167.6,958.7"/>
<polygon class="a" points="168.5,955.5 169.4,958.7 167.6,958.7"/>
<polygon class="a" points="168.5,1052.5 167.6,1049.3 169.4,1049.3"/>
<polygon class="a" points="168.5,1052.5 169.4,1055.7 167.6,1055.7"/>
<polygon class="a" points="168.5,1149.5 167.6,1146.3 169.4,1146.3"/>
<text transform="translate(166.9 929.4) rotate(-90) scale(0.820 1)" text-anchor="middle">100</text>
<text transform="translate(166.5 1004.4) rotate(-90) scale(0.820 1)" text-anchor="middle">750</text>
<text transform="translate(166.9 1100.7) rotate(-90) scale(0.820 1)" text-anchor="middle">750</text>
<line x1="176.3" y1="925.43" x2="179.33" y2="922.4" stroke-width="1.3"/>
<line x1="176.3" y1="931.48" x2="185.38" y2="922.4" stroke-width="1.3"/>
<line x1="176.3" y1="937.53" x2="191.43" y2="922.4" stroke-width="1.3"/>
<line x1="197.48" y1="922.4" x2="176.88" y2="943" stroke-width="1.3"/>
<line x1="203.52" y1="922.4" x2="182.92" y2="943" stroke-width="1.3"/>
<line x1="209.57" y1="922.4" x2="188.97" y2="943" stroke-width="1.3"/>
<line x1="215.62" y1="922.4" x2="195.02" y2="943" stroke-width="1.3"/>
<line x1="221.67" y1="922.4" x2="201.07" y2="943" stroke-width="1.3"/>
<line x1="227.72" y1="922.4" x2="207.12" y2="943" stroke-width="1.3"/>
<line x1="233.77" y1="922.4" x2="213.17" y2="943" stroke-width="1.3"/>
<line x1="239.82" y1="922.4" x2="219.22" y2="943" stroke-width="1.3"/>
<line x1="245.87" y1="922.4" x2="225.27" y2="943" stroke-width="1.3"/>
<line x1="251.92" y1="922.4" x2="231.32" y2="943" stroke-width="1.3"/>
<line x1="257.97" y1="922.4" x2="237.37" y2="943" stroke-width="1.3"/>
<line x1="264.02" y1="922.4" x2="243.42" y2="943" stroke-width="1.3"/>
<line x1="270.07" y1="922.4" x2="249.47" y2="943" stroke-width="1.3"/>
<line x1="276.12" y1="922.4" x2="255.52" y2="943" stroke-width="1.3"/>
<line x1="282.17" y1="922.4" x2="261.57" y2="943" stroke-width="1.3"/>
<line x1="288.22" y1="922.4" x2="267.62" y2="943" stroke-width="1.3"/>
<line x1="294.27" y1="922.4" x2="273.67" y2="943" stroke-width="1.3"/>
<line x1="300.32" y1="922.4" x2="279.72" y2="943" stroke-width="1.3"/>
<line x1="302.6" y1="926.17" x2="285.77" y2="943" stroke-width="1.3"/>
<line x1="302.6" y1="932.22" x2="291.82" y2="943" stroke-width="1.3"/>
<line x1="302.6" y1="938.27" x2="297.87" y2="943" stroke-width="1.3"/>
<rect x="187" y="923.5" width="40.5" height="9.5" fill="#fff" stroke="none"/>
<text transform="translate(190.6 931.6) scale(0.814 1)" font-size="10">Hindernis</text>
<line x1="166.5" y1="943.5" x2="300.4" y2="943.5" stroke-width="0.9"/>
<line x1="166.5" y1="955.5" x2="322.7" y2="955.5" stroke-width="0.8"/>
<line x1="259" y1="915.5" x2="300.4" y2="915.5" stroke-width="0.7"/>
<polygon class="a" points="259.5,915.5 262.7,914.6 262.7,916.4"/>
<polygon class="a" points="300.5,915.5 297.3,916.4 297.3,914.6"/>
<text transform="translate(271 912.8) scale(0.849 1)">320</text>
<line x1="259.5" y1="913" x2="259.5" y2="1053" stroke-width="0.8"/>
<line x1="300.5" y1="913" x2="300.5" y2="1053" stroke-width="0.8"/>
<line x1="280.7" y1="946.5" x2="369.3" y2="946.5" stroke-width="0.7"/>
<polygon class="a" points="280.5,946.5 283.7,945.6 283.7,947.4"/>
<polygon class="a" points="300.5,946.5 297.3,947.4 297.3,945.6"/>
<line x1="280.5" y1="944" x2="280.5" y2="955" stroke-width="0.8"/>
<text transform="translate(308.3 942.8) scale(0.791 1)">150 min.</text>
<rect x="216.5" y="955.5" width="64" height="97" stroke-width="1"/>
<line x1="214.6" y1="953.5" x2="280.3" y2="953.5" stroke-width="1.2"/>
<line x1="214.5" y1="953.5" x2="214.5" y2="961" stroke-width="0.9"/>
<rect x="215.5" y="950.5" width="6" height="5" stroke-width="0.9"/>
<rect x="274.5" y="950.5" width="6" height="5" stroke-width="0.9"/>
<polyline points="216.5,961.5 211.5,965.5 211.5,1042.5 216.5,1045.5" stroke-width="1"/>
<polyline points="280.5,961.5 284.5,965.5 284.5,1042.5 280.5,1045.5" stroke-width="1"/>
<polygon class="a" points="214.5,963.5 212.3,960.9 216.7,960.9"/>
<polygon class="a" points="214.5,1044.5 216.7,1047.1 212.3,1047.1"/>
<polygon class="a" points="282.5,963.5 280.3,960.9 284.7,960.9"/>
<polygon class="a" points="282.5,1044.5 284.7,1047.1 280.3,1047.1"/>
<line x1="259" y1="955.2" x2="300.4" y2="1052.6" stroke-width="1"/>
<line x1="300.4" y1="955.2" x2="259" y2="1052.6" stroke-width="1"/>
<line x1="320.5" y1="955.2" x2="320.5" y2="1052.6" stroke-width="0.7"/>
<polygon class="a" points="320.5,955.5 321.4,958.7 319.6,958.7"/>
<polygon class="a" points="320.5,1052.5 319.6,1049.3 321.4,1049.3"/>
<text transform="translate(318.2 1003.7) rotate(-90) scale(0.820 1)" text-anchor="middle">770</text>
<line x1="300.4" y1="1052.5" x2="336.2" y2="1052.5" stroke-width="0.8"/>
<line x1="165.7" y1="1052.5" x2="300.4" y2="1052.5" stroke-width="0.9"/>
<polygon points="189.5,1004.5 196.5,998.5 196.5,1001.5 204.5,1001.5 204.5,1007.5 196.5,1007.5 196.5,1009.5" stroke-width="1" fill="#fff"/>
<polygon points="289.5,1003.5 296.5,998.5 296.5,1000.5 304.5,1000.5 304.5,1006.5 296.5,1006.5 296.5,1009.5" stroke-width="1" fill="#fff"/>
<rect x="241.5" y="1052.5" width="32" height="15" stroke-width="0.9"/>
<rect x="235.5" y="1052.5" width="6" height="21" stroke-width="0.9"/>
<rect x="236.5" y="1060.5" width="4" height="4" stroke-width="0.7"/>
<rect x="236.5" y="1067.5" width="4" height="4" stroke-width="0.7"/>
<rect x="216.5" y="1052.5" width="5" height="4" stroke-width="0.8"/>
<rect x="224.5" y="1052.5" width="4" height="5" stroke-width="0.8"/>
<rect x="229.5" y="1052.5" width="4" height="5" stroke-width="0.8"/>
<rect x="225.5" y="1057.5" width="4" height="3" stroke-width="0.7"/>
<rect x="230.5" y="1057.5" width="4" height="3" stroke-width="0.7"/>
<rect x="273.5" y="1052.5" width="6" height="4" stroke-width="0.8"/>
<text transform="translate(186 1098.8) scale(0.778 1)" font-size="20" style="stroke-width:0.55px">F</text>
<line x1="197.6" y1="1092.5" x2="268.5" y2="1006.3" stroke-width="1"/>
<line x1="197.6" y1="1092.5" x2="230.8" y2="1105" stroke-width="1"/>
<rect x="215.5" y="1078.5" width="59" height="58" stroke-width="0.9"/>
<line x1="215.9" y1="1078.7" x2="274.2" y2="1136.4" stroke-width="1"/>
<line x1="274.2" y1="1078.7" x2="215.9" y2="1136.4" stroke-width="1"/>
<line x1="274.2" y1="1078.5" x2="336.2" y2="1078.5" stroke-width="0.8"/>
<line x1="274.2" y1="1136.5" x2="336.2" y2="1136.5" stroke-width="0.8"/>
<line x1="334.5" y1="1052.6" x2="334.5" y2="1171" stroke-width="0.7"/>
<polygon class="a" points="334.5,1052.5 335.4,1055.7 333.6,1055.7"/>
<polygon class="a" points="334.5,1078.5 333.6,1075.3 335.4,1075.3"/>
<polygon class="a" points="334.5,1078.5 335.4,1081.7 333.6,1081.7"/>
<polygon class="a" points="334.5,1136.5 333.6,1133.3 335.4,1133.3"/>
<polygon class="a" points="334.5,1136.5 335.4,1139.7 333.6,1139.7"/>
<polygon class="a" points="334.5,1149.5 333.6,1146.3 335.4,1146.3"/>
<polygon class="a" points="334.5,1149.5 335.4,1152.7 333.6,1152.7"/>
<text transform="translate(332.7 1065) rotate(-90) scale(0.820 1)" text-anchor="middle">200</text>
<text transform="translate(332.7 1107.5) rotate(-90) scale(0.820 1)" text-anchor="middle">450</text>
<text transform="translate(332.7 1162) rotate(-90) scale(0.820 1)" text-anchor="middle">100</text>
<line x1="164" y1="1149.5" x2="336.2" y2="1149.5" stroke-width="0.9"/>
<line x1="163.6" y1="1152.38" x2="166.57" y2="1149.4" stroke-width="1.3"/>
<line x1="163.6" y1="1158.33" x2="172.52" y2="1149.4" stroke-width="1.3"/>
<line x1="163.6" y1="1164.28" x2="178.47" y2="1149.4" stroke-width="1.3"/>
<line x1="184.42" y1="1149.4" x2="169.03" y2="1164.8" stroke-width="1.3"/>
<line x1="190.38" y1="1149.4" x2="174.98" y2="1164.8" stroke-width="1.3"/>
<line x1="196.33" y1="1149.4" x2="180.93" y2="1164.8" stroke-width="1.3"/>
<line x1="202.28" y1="1149.4" x2="186.88" y2="1164.8" stroke-width="1.3"/>
<line x1="208.23" y1="1149.4" x2="192.83" y2="1164.8" stroke-width="1.3"/>
<line x1="214.18" y1="1149.4" x2="198.78" y2="1164.8" stroke-width="1.3"/>
<line x1="220.13" y1="1149.4" x2="204.73" y2="1164.8" stroke-width="1.3"/>
<line x1="226.08" y1="1149.4" x2="210.68" y2="1164.8" stroke-width="1.3"/>
<line x1="232.03" y1="1149.4" x2="216.63" y2="1164.8" stroke-width="1.3"/>
<line x1="237.98" y1="1149.4" x2="222.58" y2="1164.8" stroke-width="1.3"/>
<line x1="243.93" y1="1149.4" x2="228.53" y2="1164.8" stroke-width="1.3"/>
<line x1="249.88" y1="1149.4" x2="234.48" y2="1164.8" stroke-width="1.3"/>
<line x1="255.83" y1="1149.4" x2="240.43" y2="1164.8" stroke-width="1.3"/>
<line x1="261.78" y1="1149.4" x2="246.38" y2="1164.8" stroke-width="1.3"/>
<line x1="267.73" y1="1149.4" x2="252.33" y2="1164.8" stroke-width="1.3"/>
<line x1="273.68" y1="1149.4" x2="258.28" y2="1164.8" stroke-width="1.3"/>
<line x1="279.63" y1="1149.4" x2="264.23" y2="1164.8" stroke-width="1.3"/>
<line x1="285.58" y1="1149.4" x2="270.18" y2="1164.8" stroke-width="1.3"/>
<line x1="291.53" y1="1149.4" x2="276.13" y2="1164.8" stroke-width="1.3"/>
<line x1="297.48" y1="1149.4" x2="282.08" y2="1164.8" stroke-width="1.3"/>
<line x1="303" y1="1149.83" x2="288.03" y2="1164.8" stroke-width="1.3"/>
<line x1="303" y1="1155.78" x2="293.98" y2="1164.8" stroke-width="1.3"/>
<line x1="303" y1="1161.73" x2="299.93" y2="1164.8" stroke-width="1.3"/>
<rect x="172" y="1155.5" width="41.5" height="10" fill="#fff" stroke="none"/>
<text transform="translate(175.5 1164.6) scale(0.845 1)" font-size="10">Hindernis</text>
<line x1="215.9" y1="1182.5" x2="274.2" y2="1182.5" stroke-width="0.7"/>
<polygon class="a" points="215.5,1182.5 218.7,1181.6 218.7,1183.4"/>
<polygon class="a" points="274.5,1182.5 271.3,1183.4 271.3,1181.6"/>
<line x1="215.5" y1="1136.4" x2="215.5" y2="1185" stroke-width="0.8"/>
<line x1="274.5" y1="1136.4" x2="274.5" y2="1185" stroke-width="0.8"/>
<text transform="translate(237 1179) scale(0.849 1)">450</text>
<text transform="translate(284.4 1184) scale(0.843 1)">Ansicht von der Oberseite des Geräts</text>
<!-- section view -->
<text transform="translate(421 991.9) scale(0.839 1)">Einlass hinten</text>
<text transform="translate(421 1007.4) scale(0.854 1)">Deckenablauf</text>
<text transform="translate(541.4 997.6) scale(0.773 1)">150 min.</text>
<line x1="520.8" y1="1000.5" x2="598.3" y2="1000.5" stroke-width="0.7"/>
<polygon class="a" points="521.5,1000.5 524.7,999.6 524.7,1001.4"/>
<polygon class="a" points="538.5,1000.5 535.3,1001.4 535.3,999.6"/>
<line x1="521.5" y1="997" x2="521.5" y2="1031" stroke-width="0.8"/>
<line x1="433.3" y1="1014.5" x2="538.4" y2="1014.5" stroke-width="1.5"/>
<line x1="433.3" y1="1017.35" x2="436.15" y2="1014.5" stroke-width="1.5"/>
<line x1="441.85" y1="1014.5" x2="435.85" y2="1020.5" stroke-width="1.5"/>
<line x1="447.55" y1="1014.5" x2="441.55" y2="1020.5" stroke-width="1.5"/>
<line x1="453.25" y1="1014.5" x2="447.25" y2="1020.5" stroke-width="1.5"/>
<line x1="458.95" y1="1014.5" x2="452.95" y2="1020.5" stroke-width="1.5"/>
<line x1="464.65" y1="1014.5" x2="458.65" y2="1020.5" stroke-width="1.5"/>
<line x1="470.35" y1="1014.5" x2="464.35" y2="1020.5" stroke-width="1.5"/>
<line x1="476.05" y1="1014.5" x2="470.05" y2="1020.5" stroke-width="1.5"/>
<line x1="481.75" y1="1014.5" x2="475.75" y2="1020.5" stroke-width="1.5"/>
<line x1="487.45" y1="1014.5" x2="481.45" y2="1020.5" stroke-width="1.5"/>
<line x1="493.15" y1="1014.5" x2="487.15" y2="1020.5" stroke-width="1.5"/>
<line x1="498.85" y1="1014.5" x2="492.85" y2="1020.5" stroke-width="1.5"/>
<line x1="504.55" y1="1014.5" x2="498.55" y2="1020.5" stroke-width="1.5"/>
<line x1="510.25" y1="1014.5" x2="504.25" y2="1020.5" stroke-width="1.5"/>
<line x1="515.95" y1="1014.5" x2="509.95" y2="1020.5" stroke-width="1.5"/>
<line x1="521.65" y1="1014.5" x2="515.65" y2="1020.5" stroke-width="1.5"/>
<line x1="527.35" y1="1014.5" x2="521.35" y2="1020.5" stroke-width="1.5"/>
<line x1="533.05" y1="1014.5" x2="527.05" y2="1020.5" stroke-width="1.5"/>
<line x1="538.4" y1="1014.85" x2="532.75" y2="1020.5" stroke-width="1.5"/>
<line x1="433.3" y1="1020.5" x2="538.4" y2="1020.5" stroke-width="1.2"/>
<line x1="538.4" y1="997" x2="538.4" y2="1091.7" stroke-width="1.5"/>
<line x1="538.4" y1="1012.25" x2="541.65" y2="1009" stroke-width="1.4"/>
<line x1="538.4" y1="1018.75" x2="547.2" y2="1009.95" stroke-width="1.4"/>
<line x1="538.4" y1="1025.25" x2="547.2" y2="1016.45" stroke-width="1.4"/>
<line x1="538.4" y1="1031.75" x2="547.2" y2="1022.95" stroke-width="1.4"/>
<line x1="538.4" y1="1038.25" x2="547.2" y2="1029.45" stroke-width="1.4"/>
<line x1="538.4" y1="1044.75" x2="547.2" y2="1035.95" stroke-width="1.4"/>
<line x1="538.4" y1="1051.25" x2="547.2" y2="1042.45" stroke-width="1.4"/>
<line x1="538.4" y1="1057.75" x2="547.2" y2="1048.95" stroke-width="1.4"/>
<line x1="538.4" y1="1064.25" x2="547.2" y2="1055.45" stroke-width="1.4"/>
<line x1="538.4" y1="1070.75" x2="547.2" y2="1061.95" stroke-width="1.4"/>
<line x1="538.4" y1="1077.25" x2="547.2" y2="1068.45" stroke-width="1.4"/>
<line x1="538.4" y1="1083.75" x2="547.2" y2="1074.95" stroke-width="1.4"/>
<line x1="538.4" y1="1090.25" x2="547.2" y2="1081.45" stroke-width="1.4"/>
<line x1="547.2" y1="1087.95" x2="543.45" y2="1091.7" stroke-width="1.4"/>
<line x1="547.2" y1="1009" x2="547.2" y2="1091.7" stroke-width="1.2"/>
<line x1="439.5" y1="1026.2" x2="439.5" y2="1057.5" stroke-width="1.5"/>
<line x1="433.3" y1="1028.5" x2="435.6" y2="1026.2" stroke-width="1.4"/>
<line x1="433.3" y1="1033.1" x2="439.5" y2="1026.9" stroke-width="1.4"/>
<line x1="433.3" y1="1037.7" x2="439.5" y2="1031.5" stroke-width="1.4"/>
<line x1="433.3" y1="1042.3" x2="439.5" y2="1036.1" stroke-width="1.4"/>
<line x1="433.3" y1="1046.9" x2="439.5" y2="1040.7" stroke-width="1.4"/>
<line x1="433.3" y1="1051.5" x2="439.5" y2="1045.3" stroke-width="1.4"/>
<line x1="433.3" y1="1056.1" x2="439.5" y2="1049.9" stroke-width="1.4"/>
<line x1="439.5" y1="1054.5" x2="436.5" y2="1057.5" stroke-width="1.4"/>
<line x1="489.8" y1="1086.2" x2="538.4" y2="1086.2" stroke-width="1.4"/>
<line x1="489.8" y1="1088.8" x2="492.4" y2="1086.2" stroke-width="1.4"/>
<line x1="497.6" y1="1086.2" x2="492.1" y2="1091.7" stroke-width="1.4"/>
<line x1="502.8" y1="1086.2" x2="497.3" y2="1091.7" stroke-width="1.4"/>
<line x1="508" y1="1086.2" x2="502.5" y2="1091.7" stroke-width="1.4"/>
<line x1="513.2" y1="1086.2" x2="507.7" y2="1091.7" stroke-width="1.4"/>
<line x1="518.4" y1="1086.2" x2="512.9" y2="1091.7" stroke-width="1.4"/>
<line x1="523.6" y1="1086.2" x2="518.1" y2="1091.7" stroke-width="1.4"/>
<line x1="528.8" y1="1086.2" x2="523.3" y2="1091.7" stroke-width="1.4"/>
<line x1="532" y1="1088.2" x2="528.5" y2="1091.7" stroke-width="1.4"/>
<text transform="translate(491.8 1102.7) scale(0.863 1)" font-size="11.5">Hindernis</text>
<polyline points="477.5,1020.5 477.5,1049.5 538.5,1049.5" stroke-width="0.9"/>
<polyline points="480.5,1020.5 480.5,1047.5 538.5,1047.5" stroke-width="0.8"/>
<rect x="486.5" y="1026.5" width="34" height="13" stroke-width="1.1" rx="2"/>
<rect x="482.5" y="1029.5" width="4" height="6" stroke-width="0.8"/>
<rect x="474.5" y="1026.5" width="3" height="10" stroke-width="0.9"/>
<rect x="520.5" y="1028.5" width="2" height="8" stroke-width="0.8"/>
<line x1="484" y1="1022.5" x2="522" y2="1022.5" stroke-width="0.6"/>
<path d="M521.9 1050.3 L524 1053.3 H535.3 L536.8 1050.3" stroke-width="1"/>
<polygon points="459.6,1032.1 463.7,1028.35 463.7,1030.3 468.9,1030.3 468.9,1033.9 463.7,1033.9 463.7,1035.85" stroke-width="0.9" fill="#fff"/>
<polygon points="529.9,1055.5 533,1059.6 532.2,1059.6 532.2,1064.6 527.8,1064.6 527.8,1059.6 526.8,1059.6" stroke-width="1" fill="#fff"/>
<path d="M529.6 1040.7 v-3.2 q0 -2.8 -2.8 -2.8 h-0.6 v1.6 l-3.4 -2.9 l3.4 -2.9 v1.6 h1 q5.4 0 5.4 5.4 v3.2 z" stroke-width="0.9" fill="#fff"/>
<line x1="439.4" y1="1091.5" x2="477.4" y2="1091.5" stroke-width="0.7"/>
<polygon class="a" points="439.5,1091.5 442.7,1090.6 442.7,1092.4"/>
<polygon class="a" points="477.5,1091.5 474.3,1092.4 474.3,1090.6"/>
<line x1="477.5" y1="1049.3" x2="477.5" y2="1093.5" stroke-width="0.8"/>
<line x1="439.5" y1="1057.5" x2="439.5" y2="1093.5" stroke-width="0.8"/>
<text transform="translate(441.2 1083.4) scale(0.783 1)" font-size="10">1000 min.</text>
<line x1="574.5" y1="1049.3" x2="574.5" y2="1086" stroke-width="0.7"/>
<polygon class="a" points="574.5,1049.5 575.4,1052.7 573.6,1052.7"/>
<polygon class="a" points="574.5,1086.5 573.6,1083.3 575.4,1083.3"/>
<line x1="538.3" y1="1049.5" x2="576.5" y2="1049.5" stroke-width="0.7"/>
<line x1="548" y1="1086.5" x2="576.5" y2="1086.5" stroke-width="0.7"/>
<text transform="translate(562 1068.5) rotate(-90) scale(0.820 1)" text-anchor="middle">1000</text>
<text transform="translate(571 1068.5) rotate(-90) scale(0.820 1)" text-anchor="middle">or more</text>
<line x1="591.5" y1="1031.7" x2="591.5" y2="1114" stroke-width="0.7"/>
<polygon class="a" points="591.5,1040.5 590.6,1037.3 592.4,1037.3"/>
<polygon class="a" points="591.5,1047.5 592.4,1050.7 590.6,1050.7"/>
<line x1="541.4" y1="1040.5" x2="595.7" y2="1040.5" stroke-width="0.7"/>
<line x1="538.3" y1="1047.5" x2="595.7" y2="1047.5" stroke-width="0.7"/>
<text transform="translate(589.3 1094.7) rotate(-90) scale(0.820 1)" text-anchor="middle">100 min.</text>
<!-- IR receiver -->
<text transform="translate(532.6 330.8) scale(0.844 1)">Infrarotempfänger Fernbedienung</text>
<line x1="562.5" y1="347.6" x2="562.5" y2="407" stroke-width="0.7"/>
<polygon class="a" points="562.5,347.5 563.4,350.7 561.6,350.7"/>
<polygon class="a" points="562.5,407.5 561.6,404.3 563.4,404.3"/>
<line x1="560" y1="347.5" x2="599" y2="347.5" stroke-width="0.7"/>
<line x1="560" y1="407.5" x2="599" y2="407.5" stroke-width="0.7"/>
<line x1="578.5" y1="352.7" x2="578.5" y2="400.3" stroke-width="0.7"/>
<polygon class="a" points="578.5,352.5 579.4,355.7 577.6,355.7"/>
<polygon class="a" points="578.5,400.5 577.6,397.3 579.4,397.3"/>
<line x1="575" y1="352.5" x2="599" y2="352.5" stroke-width="0.7"/>
<line x1="575" y1="400.5" x2="602.8" y2="400.5" stroke-width="0.7"/>
<text transform="translate(560 379) rotate(-90) scale(0.820 1)" text-anchor="middle">101</text>
<text transform="translate(575.2 376.5) rotate(-90) scale(0.820 1)" text-anchor="middle">85</text>
<rect x="602.5" y="355.5" width="17" height="41" stroke-width="1.5"/>
<polyline points="602.5,355.5 597.5,355.5 597.5,347.5 607.5,347.5 607.5,355.5" stroke-width="1.1"/>
<line x1="597.5" y1="355.3" x2="597.5" y2="396.9" stroke-width="1"/>
<polyline points="602.5,396.5 597.5,396.5 597.5,406.5 607.5,406.5 607.5,396.5" stroke-width="1.1"/>
<circle cx="602" cy="351.4" r="1.1" stroke-width="0.8" fill="#333"/>
<rect x="600.5" y="402.5" width="3" height="3" stroke-width="0.9"/>
<polyline points="619.5,355.5 624.5,355.5 624.5,406.5 614.5,406.5 614.5,396.5" stroke-width="1.1"/>
<line x1="619.1" y1="396.5" x2="624.8" y2="396.5" stroke-width="1"/>
<circle cx="619.4" cy="401.2" r="1.2" stroke-width="0.8" fill="#333"/>
<polyline points="609.5,355.5 609.5,350.5 619.5,350.5 619.5,355.5" stroke-width="1.1"/>
<polyline points="611.5,355.5 611.5,352.5 617.5,352.5 617.5,355.5" stroke-width="0.8"/>
<rect x="605.5" y="359.5" width="11" height="8" stroke-width="1.2"/>
<circle cx="606.5" cy="375.1" r="1.5" stroke-width="0.9"/>
<circle cx="606.5" cy="380.5" r="1.5" stroke-width="0.9"/>
<circle cx="606.5" cy="385.9" r="1.5" stroke-width="0.9"/>
<circle cx="606.5" cy="391.2" r="1.5" stroke-width="0.9"/>
<rect x="600.5" y="373.5" width="2" height="7" stroke-width="0.8" fill="#333"/>
<rect x="618.5" y="373.5" width="2" height="7" stroke-width="0.8" fill="#333"/>
<circle cx="614.9" cy="370.3" r="0.8" stroke-width="0.8" fill="#333"/>
<path d="M607 403 q2 -0.5 4 -2.5 q1.5 -2 3.9 -2" stroke-width="0.9"/>
<line x1="644.5" y1="356.3" x2="644.5" y2="396.1" stroke-width="0.7"/>
<polygon class="a" points="644.5,356.5 645.4,359.7 643.6,359.7"/>
<polygon class="a" points="644.5,396.5 643.6,393.3 645.4,393.3"/>
<line x1="624.8" y1="356.5" x2="646.7" y2="356.5" stroke-width="0.7"/>
<line x1="624.8" y1="396.5" x2="646.7" y2="396.5" stroke-width="0.7"/>
<text transform="translate(641.4 376.7) rotate(-90) scale(0.820 1)" text-anchor="middle">68,7</text>
<line x1="602.8" y1="422.5" x2="620.6" y2="422.5" stroke-width="0.7"/>
<polygon class="a" points="602.5,422.5 605.7,421.6 605.7,423.4"/>
<polygon class="a" points="620.5,422.5 617.3,423.4 617.3,421.6"/>
<line x1="582.6" y1="422.5" x2="602.8" y2="422.5" stroke-width="0.7"/>
<text transform="translate(585 419.8) scale(0.824 1)">28</text>
<line x1="602.8" y1="438.5" x2="622.7" y2="438.5" stroke-width="0.7"/>
<polygon class="a" points="602.5,438.5 605.7,437.6 605.7,439.4"/>
<polygon class="a" points="622.5,438.5 619.3,439.4 619.3,437.6"/>
<line x1="582.6" y1="438.5" x2="602.8" y2="438.5" stroke-width="0.7"/>
<text transform="translate(585 435.4) scale(0.824 1)">30</text>
<line x1="602.5" y1="407" x2="602.5" y2="441" stroke-width="0.8"/>
<line x1="620.5" y1="407" x2="620.5" y2="424.5" stroke-width="0.8"/>
<line x1="622.5" y1="407" x2="622.5" y2="441" stroke-width="0.8"/>
<rect x="660.5" y="356.5" width="4" height="40" stroke-width="1"/>
<rect x="664.5" y="355.5" width="18" height="41" stroke-width="1.2"/>
<line x1="666.7" y1="347.8" x2="668.5" y2="355.3" stroke-width="1.5"/>
<polyline points="679.5,355.5 679.5,350.5 682.5,350.5 682.5,355.5" stroke-width="0.9"/>
<rect x="658.5" y="369.5" width="2" height="3" stroke-width="0.8" fill="#333"/>
<rect x="663.5" y="372.5" width="2" height="7" stroke-width="0.8" fill="#333"/>
<polyline points="667.5,396.5 667.5,406.5 669.5,406.5 669.5,396.5" stroke-width="0.9"/>
<polyline points="672.5,396.5 672.5,408.5" stroke-width="1.1"/>
<line x1="672.4" y1="402.5" x2="681" y2="402.5" stroke-width="0.9"/>
<line x1="681.5" y1="396.9" x2="681.5" y2="402.5" stroke-width="0.9"/>
<line x1="637" y1="422.5" x2="661.4" y2="422.5" stroke-width="0.7"/>
<polygon class="a" points="661.5,422.5 658.3,423.4 658.3,421.6"/>
<polygon class="a" points="664.5,422.5 667.7,421.6 667.7,423.4"/>
<line x1="664.5" y1="422.5" x2="681.6" y2="422.5" stroke-width="0.7"/>
<polygon class="a" points="664.5,422.5 667.7,421.6 667.7,423.4"/>
<polygon class="a" points="681.5,422.5 678.3,423.4 678.3,421.6"/>
<line x1="681.6" y1="422.5" x2="711.8" y2="422.5" stroke-width="0.7"/>
<text transform="translate(639 419.8) scale(0.809 1)">7,5</text>
<text transform="translate(691 419.8) scale(0.835 1)">29,5</text>
<line x1="661.5" y1="395.9" x2="661.5" y2="424.5" stroke-width="0.8"/>
<line x1="664.5" y1="406" x2="664.5" y2="424.5" stroke-width="0.8"/>
<line x1="681.5" y1="395.9" x2="681.5" y2="424.5" stroke-width="0.8"/>
</svg>
</body></html>
